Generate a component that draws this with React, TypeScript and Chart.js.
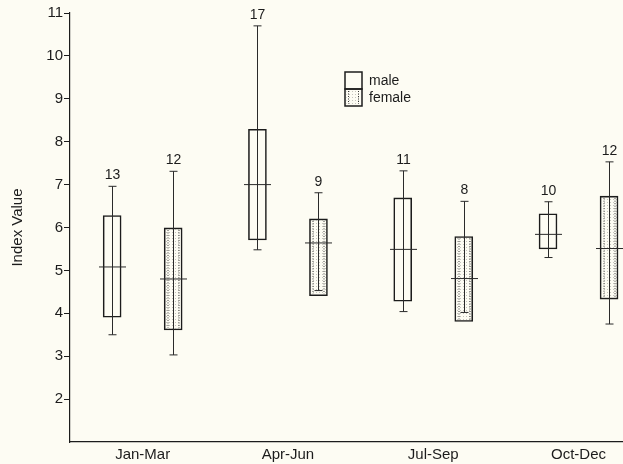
import React, { useEffect, useRef } from "react";
import { Chart, registerables } from "chart.js";
Chart.register(...registerables);

// ---- data ----
const categories = ["Jan-Mar", "Apr-Jun", "Jul-Sep", "Oct-Dec"];
const maleWhiskerLow = [3.5, 5.48, 4.04, 5.3];
const maleQ1 = [3.91, 5.71, 4.28, 5.5];
const maleMedian = [5.08, 7.0, 5.49, 5.84];
const maleQ3 = [6.28, 8.29, 6.69, 6.32];
const maleWhiskerHigh = [6.96, 10.7, 7.32, 6.6];
const maleN = [13, 17, 11, 10];
const femaleWhiskerLow = [3.03, 4.53, 4.02, 3.75];
const femaleQ1 = [3.61, 4.41, 3.81, 4.33];
const femaleMedian = [4.8, 5.64, 4.81, 5.51];
const femaleQ3 = [5.99, 6.2, 5.79, 6.73];
const femaleWhiskerHigh = [7.31, 6.81, 6.61, 7.53];
const femaleN = [12, 9, 8, 12];
const yTicks = [2, 3, 4, 5, 6, 7, 8, 9, 10, 11];
const seriesNames = ["male", "female"];

// ---- layout / style constants ----
const GROUP_OFFSET = 0.21;
const X_MAX = 3.806;
const BG = "#fdfcf3";
const INK = "#1c1c1c";
const FONT = "'Liberation Sans', Arial, sans-serif";

const stats = [
  { low: maleWhiskerLow, q1: maleQ1, med: maleMedian, q3: maleQ3, high: maleWhiskerHigh, n: maleN, off: -GROUP_OFFSET, textured: false },
  { low: femaleWhiskerLow, q1: femaleQ1, med: femaleMedian, q3: femaleQ3, high: femaleWhiskerHigh, n: femaleN, off: GROUP_OFFSET, textured: true },
];

function makePattern(ctx: CanvasRenderingContext2D) {
  const c = document.createElement("canvas");
  c.width = 3;
  c.height = 3;
  const p = c.getContext("2d")!;
  p.fillStyle = "rgba(0,0,0,0.22)";
  p.fillRect(1, 1, 1, 1);
  return ctx.createPattern(c, "repeat");
}

function drawTexture(ctx: CanvasRenderingContext2D, l: number, t: number, r: number, b: number) {
  ctx.save();
  const pat = makePattern(ctx);
  if (pat) {
    ctx.fillStyle = pat;
    ctx.fillRect(l + 1.5, t + 1.5, r - l - 3, b - t - 3);
  }
  ctx.strokeStyle = "#333";
  ctx.lineWidth = 1;
  ctx.setLineDash([1, 1.5]);
  for (const x of [l + 3.5, r - 3.5]) {
    ctx.beginPath();
    ctx.moveTo(x, t + 2);
    ctx.lineTo(x, b - 2);
    ctx.stroke();
  }
  ctx.restore();
}

const bgPlugin = {
  id: "bg",
  beforeDraw(chart: any) {
    const ctx = chart.ctx;
    ctx.save();
    ctx.fillStyle = BG;
    ctx.fillRect(0, 0, chart.width, chart.height);
    ctx.restore();
  },
};

const boxPlugin = {
  id: "boxes",
  afterDatasetsDraw(chart: any) {
    const ctx: CanvasRenderingContext2D = chart.ctx;
    const xs = chart.scales.x;
    const ys = chart.scales.y;
    ctx.save();
    stats.forEach((s, di) => {
      const meta = chart.getDatasetMeta(di);
      categories.forEach((_, i) => {
        const cx = Math.round(xs.getPixelForValue(i + 0.5 + s.off)) + 0.5;
        const bar = meta.data[i];
        const half = bar ? bar.width / 2 : 9;
        if (s.textured) {
          drawTexture(ctx, cx - half, ys.getPixelForValue(s.q3[i]), cx + half, ys.getPixelForValue(s.q1[i]));
        }
        const yLow = ys.getPixelForValue(s.low[i]);
        const yHigh = ys.getPixelForValue(s.high[i]);
        const yMed = ys.getPixelForValue(s.med[i]);
        ctx.strokeStyle = "#2a2a2a";
        ctx.lineWidth = 1;
        ctx.setLineDash([]);
        ctx.beginPath();
        ctx.moveTo(cx, yLow);
        ctx.lineTo(cx, yHigh);
        ctx.moveTo(cx - 4, yLow);
        ctx.lineTo(cx + 4, yLow);
        ctx.moveTo(cx - 4, yHigh);
        ctx.lineTo(cx + 4, yHigh);
        ctx.moveTo(cx - 13.5, yMed);
        ctx.lineTo(cx + 13.5, yMed);
        ctx.stroke();
        ctx.fillStyle = INK;
        ctx.font = `14px ${FONT}`;
        ctx.textAlign = "center";
        ctx.textBaseline = "middle";
        ctx.fillText(String(s.n[i]), cx, yHigh - 11);
      });
    });

    // legend
    const lx = chart.chartArea.left + 275;
    const ly = chart.chartArea.top + 59;
    const w = 17;
    const h = 17;
    ctx.strokeStyle = INK;
    ctx.lineWidth = 1.5;
    ctx.fillStyle = BG;
    ctx.fillRect(lx, ly, w, h);
    ctx.strokeRect(lx, ly, w, h);
    drawTexture(ctx, lx, ly + h, lx + w, ly + 2 * h);
    ctx.strokeStyle = INK;
    ctx.lineWidth = 1.5;
    ctx.setLineDash([]);
    ctx.strokeRect(lx, ly + h, w, h);
    ctx.fillStyle = INK;
    ctx.font = `14px ${FONT}`;
    ctx.textAlign = "left";
    ctx.textBaseline = "middle";
    ctx.fillText(seriesNames[0], lx + 24, ly + 9);
    ctx.fillText(seriesNames[1], lx + 24, ly + 26);
    ctx.restore();
  },
};

export default function App() {
  const ref = useRef<HTMLCanvasElement | null>(null);
  useEffect(() => {
    document.body.style.margin = "0";
    document.body.style.background = BG;
    const canvas = ref.current!;
    const chart = new Chart(canvas, {
      type: "bar",
      data: {
        datasets: stats.map((s, di) => ({
          label: seriesNames[di],
          data: categories.map((_, i) => ({ x: i + 0.5 + s.off, y: [s.q1[i], s.q3[i]] })),
          backgroundColor: BG,
          borderColor: INK,
          borderWidth: 1.6,
          borderSkipped: false,
          barThickness: 18,
          grouped: false,
        })) as any,
      },
      options: {
        animation: false,
        responsive: false,
        maintainAspectRatio: false,
        layout: { padding: { top: 13, right: 0, left: 0, bottom: 0 } },
        plugins: { legend: { display: false }, tooltip: { enabled: false } },
        scales: {
          x: {
            type: "linear",
            offset: false,
            min: 0,
            max: X_MAX,
            grid: { display: true, offset: false, drawOnChartArea: false, drawTicks: false },
            border: { display: true, color: INK, width: 1.2 },
            afterBuildTicks: (s: any) => {
              s.ticks = categories.map((_, i) => ({ value: i + 0.5 }));
            },
            afterFit: (s: any) => {
              s.height = 22;
            },
            ticks: {
              autoSkip: false,
              maxRotation: 0,
              padding: 4,
              color: INK,
              font: { family: FONT, size: 15 },
              callback: (v: any) => categories[Math.round(Number(v) - 0.5)],
            },
          },
          y: {
            min: 1,
            max: 11,
            afterBuildTicks: (s: any) => {
              s.ticks = yTicks.map((v) => ({ value: v }));
            },
            afterFit: (s: any) => {
              s.width = 70;
            },
            grid: { display: true, drawOnChartArea: false, drawTicks: true, tickLength: 6, color: INK, lineWidth: 1 },
            border: { display: true, color: INK, width: 1.2 },
            ticks: { padding: 1, color: INK, font: { family: FONT, size: 15 } },
            title: {
              display: true,
              text: "Index Value",
              color: INK,
              font: { family: FONT, size: 15 },
              padding: { top: 9, bottom: 4 },
            },
          },
        },
      } as any,
      plugins: [bgPlugin, boxPlugin],
    });
    return () => chart.destroy();
  }, []);
  return (
    <div style={{ position: "fixed", left: 0, top: 0, width: 623, height: 464 }}>
      <canvas ref={ref} width={623} height={464} style={{ display: "block" }} />
    </div>
  );
}
